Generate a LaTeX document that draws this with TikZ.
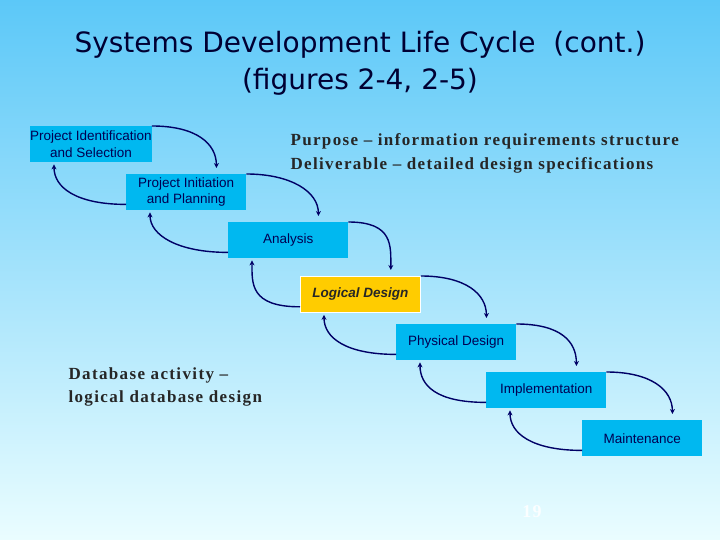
\documentclass[tikz,border=0pt]{standalone}
\usepackage{fontspec}
\setmainfont{Liberation Sans}
\newfontfamily\ttl{DejaVu Sans}
\newfontfamily\srf[LetterSpace=8]{Liberation Serif}
\usetikzlibrary{arrows.meta}
\definecolor{bgtop}{HTML}{5CC8F8}
\definecolor{bgbot}{HTML}{EAFDFF}
\definecolor{boxc}{HTML}{00B8F0}
\definecolor{navy}{HTML}{000066}
\definecolor{gold}{HTML}{FFCC00}
\begin{document}
\begin{tikzpicture}[x=1pt,y=-1pt,
  stage/.style={fill=boxc,minimum width=120pt,minimum height=36pt,inner sep=0pt,align=center,font=\fontsize{13.5}{16.5}\selectfont,text=navy!80!black},
  fwd/.style={navy,line width=1.4pt,-{Stealth[length=5pt,width=5pt]}},
  note/.style={font=\srf\bfseries\fontsize{17}{23.5}\selectfont,align=left,anchor=north west,text=black!85}]
\shade[top color=bgtop,bottom color=bgbot] (0,0) rectangle (720,540);
\useasboundingbox (0,0) rectangle (720,540);
\node[font=\ttl\fontsize{28}{37}\selectfont,text=navy!50!black,align=center] (title) at (360,63) {Systems Development Life Cycle\ \ (cont.)\\(figures 2-4, 2-5)};
\node[stage,anchor=north west] (s1) at (30,126) {Project Identification\\and Selection};
\node[stage,anchor=north west] (s2) at (126,174) {Project Initiation\\and Planning};
\node[stage,anchor=north west] (s3) at (228,222) {Analysis};
\node[stage,anchor=north west,fill=gold,draw=white,line width=0.8pt,font=\bfseries\itshape\fontsize{13.5}{16.5}\selectfont,text=black!85] (s4) at (300,276) {Logical Design};
\node[stage,anchor=north west] (s5) at (396,324) {Physical Design};
\node[stage,anchor=north west] (s6) at (486,372) {Implementation};
\node[stage,anchor=north west] (s7) at (582,420) {Maintenance};
\foreach \a/\b in {s1/s2,s2/s3,s3/s4,s4/s5,s5/s6,s6/s7}{
  \draw[fwd] (\a.north east) .. controls ([xshift=45pt]\a.north east) and ([xshift=-30pt,yshift=30pt]\b.north east) .. ([xshift=-30pt,yshift=6pt]\b.north east);
  \draw[fwd] ([yshift=6pt]\b.south west) .. controls ([xshift=-50pt,yshift=6pt]\b.south west) and ([xshift=24pt,yshift=-25pt]\a.south west) .. ([xshift=24pt,yshift=-2pt]\a.south west);
}
\node[note] (purp) at (287,130) {Purpose – information requirements structure\\Deliverable – detailed design specifications};
\node[note] (dba) at (65,364) {Database activity –\\logical database design};
\node[font=\srf\bfseries\fontsize{18}{20}\selectfont,text=white!80!bgbot] (pg) at (532,512) {19};
\end{tikzpicture}
\end{document}
